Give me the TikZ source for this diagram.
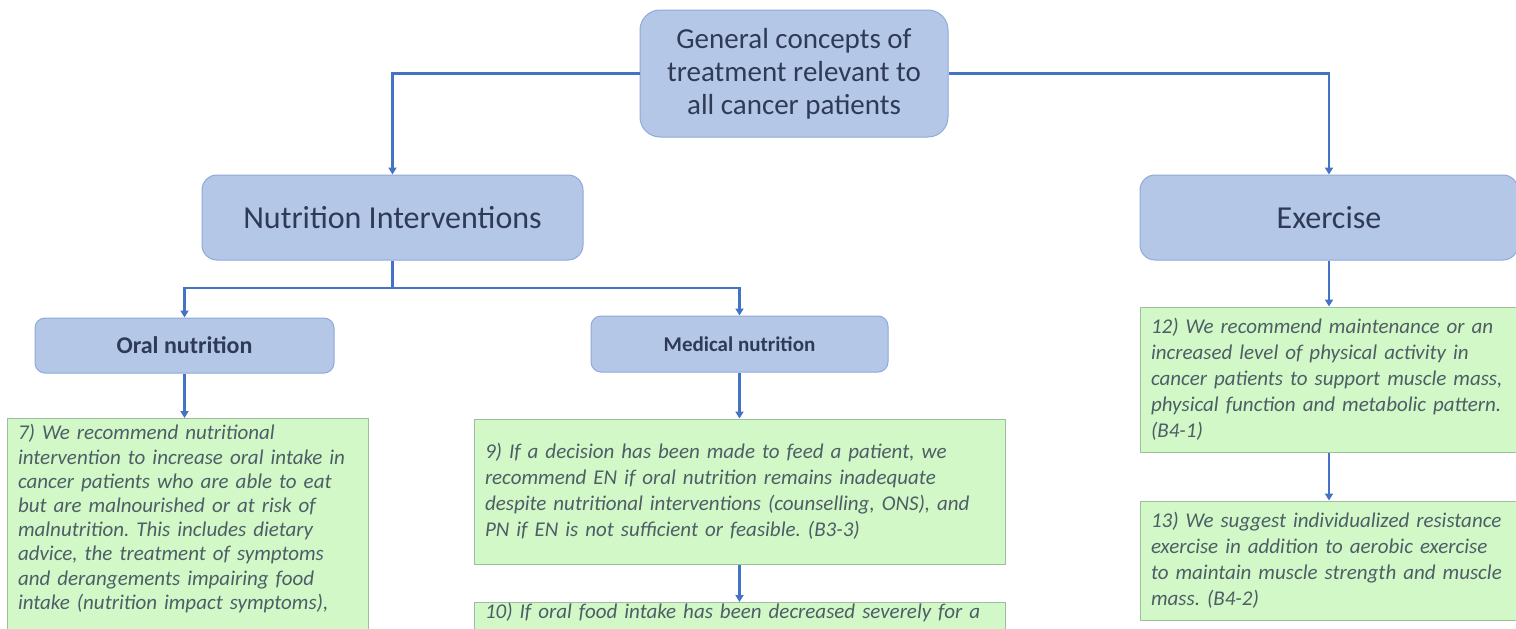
\documentclass[tikz,border=0pt]{standalone}
\usepackage{fontspec}
\setmainfont{Carlito}
\usetikzlibrary{arrows.meta}
\definecolor{bfill}{HTML}{B4C7E7}
\definecolor{bbord}{HTML}{8FAADC}
\definecolor{btext}{HTML}{2E3A56}
\definecolor{gfill}{HTML}{D2F8C8}
\definecolor{gbord}{HTML}{9DBF9D}
\definecolor{gtext}{HTML}{4E5E66}
\definecolor{lblue}{HTML}{4472C4}
\tikzset{
  bluebox/.style={draw=bbord, fill=bfill, line width=1pt, text=btext, inner sep=0pt, align=center},
  greenbox/.style={draw=gbord, fill=gfill, line width=1pt, text=gtext, inner xsep=11pt, inner ysep=0pt, align=left},
  conn/.style={draw=lblue, line width=2.5pt},
  arr/.style={conn, -{Triangle[length=7pt,width=8pt]}}
}
\begin{document}
\frenchspacing
\begin{tikzpicture}[x=1pt,y=-1pt]
\useasboundingbox (0,0) rectangle (1516,629);
\fill[white] (0,0) rectangle (1516,629);
\clip (0,0) rectangle (1516,629);

\node[bluebox, rounded corners=20pt, minimum width=308pt, minimum height=127pt,
  font=\fontsize{29}{33}\selectfont] (top) at (794,73.5)
  {General concepts of\\treatment relevant to\\all cancer patients};
\node[bluebox, rounded corners=15pt, minimum width=381pt, minimum height=85pt,
  font=\fontsize{32}{36}\selectfont] (nut) at (392.5,217.5) {Nutrition Interventions};
\node[bluebox, rounded corners=15pt, minimum width=378pt, minimum height=85pt,
  font=\fontsize{32}{36}\selectfont] (ex) at (1329,217.5) {Exercise};
\node[bluebox, rounded corners=10pt, minimum width=299pt, minimum height=55pt,
  font=\fontsize{24}{28}\selectfont\bfseries] (oral) at (184.5,345.5) {Oral nutrition};
\node[bluebox, rounded corners=10pt, minimum width=297pt, minimum height=56pt,
  font=\fontsize{21}{25}\selectfont\bfseries] (med) at (739.5,344) {Medical nutrition};

\node[greenbox, anchor=north, text width=339pt, inner ysep=6pt,
  font=\fontsize{21}{24.2}\selectfont\itshape] (b7) at (187.5,418)
  {7) We recommend nutritional\\
   intervention to increase oral intake in\\
   cancer patients who are able to eat\\
   but are malnourished or at risk of\\
   malnutrition. This includes dietary\\
   advice, the treatment of symptoms\\
   and derangements impairing food\\
   intake (nutrition impact symptoms),\\
   \strut};
\node[greenbox, text width=509pt, minimum height=145pt,
  font=\fontsize{21}{26}\selectfont\itshape] (b9) at (739.5,491.5)
  {9) If a decision has been made to feed a patient, we\\
   recommend EN if oral nutrition remains inadequate\\
   despite nutritional interventions (counselling, ONS), and\\
   PN if EN is not sufficient or feasible. (B3-3)};
\node[greenbox, anchor=north, text width=509pt, inner ysep=1pt,
  font=\fontsize{21}{26}\selectfont\itshape] (b10) at (739.5,602)
  {10) If oral food intake has been decreased severely for a\\ \strut\\ \strut};
\node[greenbox, text width=356pt, minimum height=145pt,
  font=\fontsize{21}{26}\selectfont\itshape] (b12) at (1329,379.5)
  {12) We recommend maintenance or an\\
   increased level of physical activity in\\
   cancer patients to support muscle mass,\\
   physical function and metabolic pattern.\\
   (B4-1)};
\node[greenbox, text width=356pt, minimum height=119pt,
  font=\fontsize{21}{26}\selectfont\itshape] (b13) at (1329,560.5)
  {13) We suggest individualized resistance\\
   exercise in addition to aerobic exercise\\
   to maintain muscle strength and muscle\\
   mass. (B4-2)};

\coordinate (split) at (392.5,288);
\draw[arr] (top.west) -| (nut.north);
\draw[arr] (top.east) -| (ex.north);
\draw[conn] (nut.south) -- (split);
\draw[arr] (split) -| (oral.north);
\draw[arr] (split) -| (med.north);
\draw[arr] (oral.south) -- (oral.south |- b7.north);
\draw[arr] (med.south) -- (b9.north);
\draw[arr] (b9.south) -- (b10.north);
\draw[arr] (ex.south) -- (b12.north);
\draw[arr] (b12.south) -- (b13.north);
\end{tikzpicture}
\end{document}
